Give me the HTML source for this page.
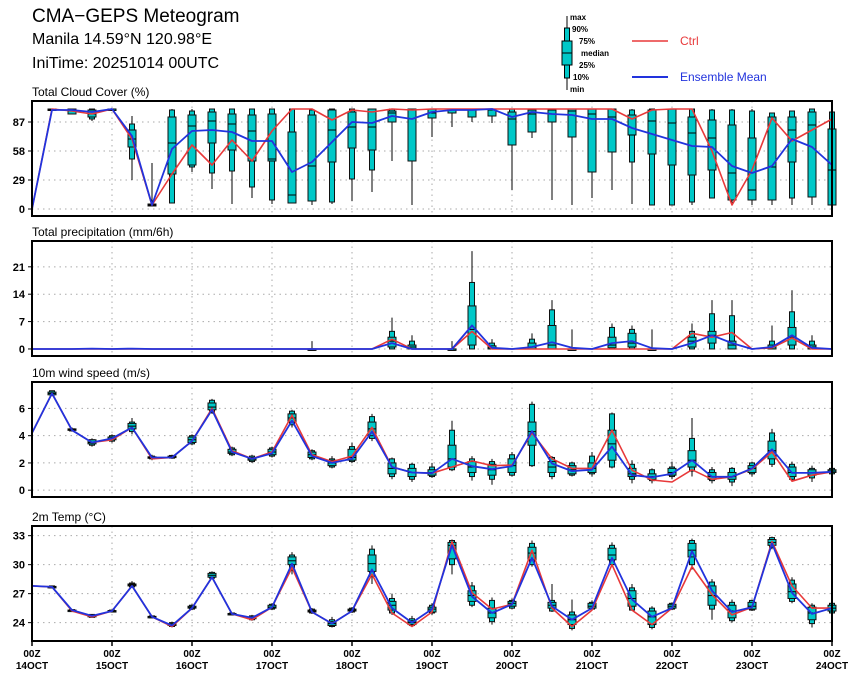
<!DOCTYPE html>
<html><head><meta charset="utf-8"><style>
html,body{margin:0;padding:0;background:#fff;}
#wrap{position:relative;width:860px;height:680px;overflow:hidden;font-family:"Liberation Sans",sans-serif;}
.t{position:absolute;left:32px;color:#000;white-space:nowrap;}
</style></head><body>
<div id="wrap">
<div class="t" style="top:6px;font-size:19px;">CMA−GEPS Meteogram</div>
<div class="t" style="top:31px;font-size:16px;">Manila 14.59°N 120.98°E</div>
<div class="t" style="top:55px;font-size:16px;">IniTime: 20251014 00UTC</div>
<svg id="chart" width="860" height="680" style="position:absolute;left:0;top:0">
 <g font-family="Liberation Sans" font-weight="bold" font-size="8">
  <line x1="567" y1="16" x2="567" y2="90" stroke="#000" stroke-width="1"/>
  <rect x="564.5" y="28" width="5" height="50" fill="#00c8c8" stroke="#000"/>
  <rect x="562" y="41" width="10" height="24" fill="#00c8c8" stroke="#000"/>
  <line x1="562" y1="53" x2="572" y2="53" stroke="#000"/>
  <text x="570" y="20">max</text><text x="572" y="32">90%</text><text x="579" y="44">75%</text>
  <text x="581" y="56">median</text><text x="579" y="68">25%</text><text x="573" y="80">10%</text><text x="570" y="92">min</text>
  <line x1="632" y1="41" x2="668" y2="41" stroke="#e8393a" stroke-width="1.5"/>
  <text x="680" y="45" fill="#e8393a" font-weight="normal" font-size="12">Ctrl</text>
  <line x1="632" y1="77" x2="668" y2="77" stroke="#2233dd" stroke-width="2"/>
  <text x="680" y="81" fill="#2233dd" font-weight="normal" font-size="12">Ensemble Mean</text>
 </g>
</svg>
</div>
<script>
// ---- Cloud cover (%) ----
const cMin=[null,99,95,88,99,29,3,6,37,20,5,11,5,6,4,5,8,17,48,4,72,82,87,86,19,71,9,4,11,19,5,4,4,4,11,4,4,4,4,4,4];
const cP10=[null,99,95,90,99,50,3,6,42,36,38,22,9,6,8,7,30,39,87,48,91,96,92,93,64,77,87,72,37,57,47,4,4,7,11,9,9,9,11,12,4];
const cP25=[null,99,95,92,99,62,3,35,44,66,59,48,48,6,8,47,61,59,87,48,91,96,92,93,64,77,87,72,37,57,74,55,44,34,39,9,9,9,47,12,4];
const cMed=[null,99,98,95,100,70,4,66,83,88,85,78,50,14,43,79,82,82,96,99,96,99,99,99,90,95,99,98,95,92,74,88,86,76,71,36,19,42,79,84,39];
const cP75=[null,100,100,99,100,79,5,92,94,97,95,94,95,77,94,99,97,100,98,100,100,100,100,100,97,99,100,100,100,100,94,99,100,92,89,84,71,92,92,97,80];
const cP90=[null,100,100,100,100,85,5,99,98,100,100,100,100,100,99,100,100,100,100,100,100,100,100,100,100,100,100,100,100,100,99,100,100,100,99,99,98,96,98,100,97];
const cMax=[null,100,100,100,100,93,46,100,100,100,100,100,100,100,100,100,100,100,100,100,100,100,100,100,100,100,100,100,100,100,100,100,100,100,100,100,100,96,98,100,97];
const cCtrl=[0,100,98,95,100,70,4,35,64,44,69,48,78,100,100,89,99,97,100,99,100,100,100,100,100,100,100,100,100,100,90,99,100,100,58,4,39,91,68,79,90];
const cMean=[0,99,99,97,100,73,4,60,78,79,77,68,68,37,47,67,87,86,93,90,97,99,99,100,92,97,95,94,90,90,81,75,69,63,62,43,36,43,70,62,44];
const cTicks=[0,29,58,87];
// ---- Precipitation (mm/6h) ----
const pMin=[0,0,0,0,0,0,0,0,0,0,0,0,0,0,0,0,0,0,0,0,0,0,0,0,0,0,0,0,0,0,0,0,0,0,0,0,0,0,0,0,0];
const pP10=[0,0,0,0,0,0,0,0,0,0,0,0,0,0,0,0,0,0,0,0,0,0,0,0,0,0,0,0,0,0,0,0,0,0,0,0,0,0,0,0,0];
const pP25=[0,0,0,0,0,0,0,0,0,0,0,0,0,0,0,0,0,0,0.5,0,0,0,1,0,0,0,0,0,0,0.3,0.5,0,0,0.5,1.5,0,0,0,1,0,0];
const pMed=[0,0,0,0,0,0,0,0,0,0,0,0,0,0,0,0,0,0,2,0.5,0,0,5,0.3,0,0.5,1,0,0,1,1.5,0,0,2,3.5,1,0,0.5,3,0.5,0];
const pP75=[0,0,0,0,0,0,0,0,0,0,0,0,0,0,0,0,0,0,3,1,0,0,11,0.8,0,1.5,6,0,0,3,4,0,0,3,4.5,2,0,1,5.5,1,0];
const pP90=[0,0,0,0,0,0,0,0,0,0,0,0,0,0,0,0,0,0,4.5,2,0,0,17,1.5,0,2.5,10,0,0,5.5,5,0,0,4.5,9,8.5,0,2,9.5,2,0];
const pMax=[0,0,0,0,0,0,0,0,0,0,0,0,0,0,2,0,0,0,8,3.5,0,2,25,2.5,0,4,12.5,5,0,6.5,6,5,0,6.5,12.5,12.5,0,6,15,3.5,0];
const pCtrl=[0,0,0,0,0,0,0,0,0,0,0,0,0,0,0,0,0,0,2.5,0,0,0,4.5,0,0,0,0,0,0,0,0,0,0,4,3,4.2,0,0.3,2.8,0,0];
const pMean=[0,0,0,0.1,0,0.1,0,0,0,0,0,0,0,0,0,0,0,0,1.5,0,0,0,6,0.3,0,0.5,1.7,0.3,0,1.5,2,0.2,0,1.5,3.5,1.5,0,0.5,3.5,0.3,0];
const pTicks=[0,7,14,21];
// ---- 10m wind speed (m/s) ----
const wMin=[null,6.9,4.3,3.2,3.5,4.1,2.2,2.3,3.3,5.6,2.5,2.0,2.4,4.6,2.2,1.6,2.0,3.6,0.8,0.6,0.9,1.4,0.7,0.4,1.0,1.7,0.8,1.0,1.0,1.6,0.5,0.5,0.8,1.0,0.5,0.3,1.0,1.7,0.7,0.6,1.1];
const wP10=[null,7.0,4.35,3.3,3.6,4.3,2.3,2.35,3.4,5.7,2.6,2.1,2.5,4.8,2.3,1.7,2.1,3.8,1.0,0.8,1.0,1.5,1.0,0.8,1.1,1.8,1.0,1.1,1.2,1.7,0.8,0.7,1.0,1.4,0.7,0.6,1.2,1.9,0.8,0.9,1.2];
const wP25=[null,7.0,4.4,3.4,3.7,4.5,2.35,2.4,3.5,5.9,2.7,2.2,2.6,5.0,2.4,1.8,2.2,4.0,1.2,1.0,1.1,1.7,1.3,1.1,1.3,3.3,1.3,1.2,1.3,2.2,1.0,0.8,1.1,1.7,0.8,0.8,1.3,2.3,1.0,1.1,1.3];
const wMed=[null,7.1,4.45,3.5,3.8,4.7,2.4,2.45,3.7,6.1,2.8,2.3,2.8,5.3,2.6,2.0,2.4,4.5,1.6,1.3,1.3,2.3,1.7,1.5,1.8,4.3,1.7,1.5,1.6,3.4,1.2,1.0,1.3,2.2,1.0,1.0,1.6,2.9,1.3,1.3,1.4];
const wP75=[null,7.2,4.5,3.7,3.9,4.9,2.45,2.5,3.9,6.4,3.0,2.4,3.0,5.6,2.8,2.2,3.0,5.0,2.0,1.6,1.5,3.3,2.1,1.9,2.3,5.0,2.1,1.8,2.0,4.4,1.6,1.2,1.6,2.9,1.3,1.3,1.8,3.6,1.7,1.5,1.5];
const wP90=[null,7.3,4.5,3.7,4.0,5.0,2.5,2.55,4.0,6.6,3.1,2.5,3.1,5.8,2.9,2.3,3.2,5.4,2.3,1.9,1.7,4.4,2.3,2.1,2.6,6.3,2.4,2.0,2.5,5.6,1.9,1.5,1.7,3.8,1.5,1.6,2.0,4.2,1.9,1.6,1.6];
const wMax=[null,7.3,4.6,3.8,4.1,5.3,2.6,2.6,4.1,6.7,3.2,2.6,3.2,5.9,3.0,2.5,3.5,5.6,2.4,2.0,2.0,5.1,2.5,2.3,2.8,6.5,2.5,2.1,2.8,5.7,2.2,1.6,2.1,5.3,1.7,1.7,2.1,4.5,2.1,1.8,1.7];
const wCtrl=[4.2,7.1,4.4,3.5,3.7,4.6,2.3,2.4,3.6,6.0,2.9,2.3,2.8,5.5,2.6,2.1,2.5,4.6,1.7,1.3,1.25,1.7,2.15,1.8,1.84,4.2,2.3,1.6,1.6,4.4,1.47,0.75,0.6,1.5,0.8,0.98,1.55,2.8,0.66,1.1,1.35];
const wMean=[4.2,7.1,4.4,3.5,3.8,4.6,2.4,2.4,3.6,5.9,2.8,2.3,2.7,5.1,2.5,2.0,2.3,4.3,1.7,1.3,1.25,2.3,1.76,1.54,1.76,4.34,1.96,1.4,1.5,3.2,1.1,0.95,1.2,2.2,0.98,0.98,1.6,3.0,1.27,1.27,1.35];
const wTicks=[0,2,4,6];
// ---- 2m Temp (°C) ----
const tMin=[null,27.6,25.1,24.5,25.1,27.6,24.5,23.5,25.3,28.5,24.8,24.2,25.3,29.0,24.9,23.5,25.0,28.0,24.8,23.6,24.8,29.0,25.6,23.8,25.4,29.8,25.1,23.2,25.3,29.8,25.2,23.3,25.3,29.5,24.3,24.0,25.2,31.6,26.0,23.5,24.9];
const tP10=[null,27.6,25.15,24.55,25.1,27.7,24.5,23.6,25.4,28.6,24.8,24.3,25.4,29.7,25.0,23.6,25.1,28.8,25.0,23.7,25.0,30.0,25.8,24.1,25.5,30.0,25.2,23.4,25.4,30.0,25.3,23.5,25.4,30.0,25.4,24.2,25.3,31.8,26.2,23.9,25.0];
const tP25=[null,27.65,25.2,24.6,25.15,27.8,24.55,23.7,25.5,28.7,24.85,24.4,25.5,30.0,25.1,23.7,25.2,29.3,25.3,23.8,25.1,30.6,26.2,24.5,25.7,30.5,25.5,23.8,25.5,30.5,25.7,23.8,25.5,30.8,25.8,24.5,25.4,32.0,26.5,24.3,25.2];
const tMed=[null,27.7,25.25,24.7,25.2,27.9,24.6,23.8,25.6,28.9,24.9,24.5,25.6,30.4,25.2,23.9,25.3,30.1,25.8,24.0,25.4,32.0,26.8,25.0,26.0,31.2,25.8,24.3,25.7,31.0,26.5,24.6,25.7,31.5,26.8,25.2,25.7,32.3,27.2,25.0,25.5];
const tP75=[null,27.75,25.3,24.8,25.25,28.0,24.65,23.9,25.7,29.1,24.95,24.6,25.8,30.8,25.3,24.1,25.4,31.0,26.2,24.2,25.6,32.3,27.3,25.5,26.2,31.8,26.1,24.8,26.0,31.7,27.3,25.2,25.9,32.2,27.8,25.8,26.1,32.6,28.0,25.6,25.8];
const tP90=[null,27.8,25.35,24.85,25.3,28.1,24.7,24.0,25.8,29.2,25.0,24.7,25.9,31.0,25.4,24.3,25.5,31.6,26.5,24.4,25.8,32.5,27.8,26.3,26.3,32.2,26.3,25.1,26.1,32.0,27.6,25.5,26.0,32.5,28.2,26.1,26.3,32.8,28.4,25.8,26.0];
const tMax=[null,27.8,25.4,24.9,25.3,28.3,24.7,24.1,25.9,29.3,25.0,24.8,26.0,31.3,25.5,24.6,25.6,32.0,27.0,24.7,26.0,32.6,28.2,26.6,26.5,32.5,28.0,26.4,26.3,32.3,28.0,25.7,26.1,32.7,28.5,26.4,26.4,32.9,28.7,26.0,26.1];
const tCtrl=[27.8,27.7,25.2,24.6,25.2,27.8,24.6,23.6,25.5,28.7,24.9,24.3,25.6,29.7,25.1,23.9,25.2,29.0,25.0,23.6,25.1,32.4,27.1,25.4,25.9,31.5,25.5,23.6,25.3,30.0,25.3,23.8,25.5,29.8,26.9,24.8,25.6,32.4,27.8,25.5,25.5];
const tMean=[27.8,27.7,25.3,24.7,25.2,27.8,24.6,23.7,25.5,28.7,24.9,24.5,25.6,30.1,25.1,23.9,25.2,29.5,25.5,24.0,25.4,32.0,26.7,25.0,25.9,30.7,25.7,24.3,25.5,30.7,26.4,24.6,25.5,31.4,27.3,25.1,25.6,32.2,27.1,24.9,25.5];
const tTicks=[24,27,30,33];
const dayLabels=["14OCT","15OCT","16OCT","17OCT","18OCT","19OCT","20OCT","21OCT","22OCT","23OCT","24OCT"];

const NS='http://www.w3.org/2000/svg';
const svg=document.getElementById('chart');
const X0=32,X1=832,NSTEP=40;
function xs(i){return X0+(X1-X0)*i/NSTEP;}
function mk(tag,attrs,parent){const e=document.createElementNS(NS,tag);for(const k in attrs)e.setAttribute(k,attrs[k]);(parent||svg).appendChild(e);return e;}

const panels=[
 {key:'cloud',title:'Total Cloud Cover (%)',top:101,bot:216,vmin:-7,vmax:108,ticks:cTicks,mn:cMin,p10:cP10,p25:cP25,med:cMed,p75:cP75,p90:cP90,mx:cMax,ctrl:cCtrl,mean:cMean,thr:-1},
 {key:'precip',title:'Total precipitation (mm/6h)',top:241,bot:356,vmin:-1.8,vmax:27.6,ticks:pTicks,mn:pMin,p10:pP10,p25:pP25,med:pMed,p75:pP75,p90:pP90,mx:pMax,ctrl:pCtrl,mean:pMean,thr:0.3},
 {key:'wind',title:'10m wind speed (m/s)',top:382,bot:497,vmin:-0.5,vmax:7.94,ticks:wTicks,mn:wMin,p10:wP10,p25:wP25,med:wMed,p75:wP75,p90:wP90,mx:wMax,ctrl:wCtrl,mean:wMean,thr:-1},
 {key:'temp',title:'2m Temp (°C)',top:526,bot:641,vmin:22.1,vmax:34.0,ticks:tTicks,mn:tMin,p10:tP10,p25:tP25,med:tMed,p75:tP75,p90:tP90,mx:tMax,ctrl:tCtrl,mean:tMean,thr:-1}
];

panels.forEach(p=>{
 const ys=v=>p.bot-(v-p.vmin)/(p.vmax-p.vmin)*(p.bot-p.top);
 const g=mk('g',{});
 
 
 const tt=mk('text',{x:32,y:p.top-5,'font-size':12,'font-family':'Liberation Sans'},g);
 
 
 tt.textContent=p.title;
 p.ticks.forEach(t=>{
  const y=ys(t);
  const gl=mk('line',{x1:X0,x2:X1,y1:y,y2:y,stroke:'#aaa','stroke-width':1,'stroke-dasharray':'1.5,4'},g);
  
  
  mk('line',{x1:X0-4,x2:X0,y1:y,y2:y,stroke:'#000'},g);
  const lb=mk('text',{x:X0-7,y:y+4,'text-anchor':'end','font-size':11,'font-weight':'bold','font-family':'Liberation Sans'},g);
  
  
  lb.textContent=t;
 });
 for(let d=1;d<10;d++){
  const x=xs(d*4);
  const vl=mk('line',{x1:x,x2:x,y1:p.top,y2:p.bot,stroke:'#aaa','stroke-width':1,'stroke-dasharray':'1.5,4'},g);
  
  
 }
 for(let i=0;i<p.mx.length;i++){
  if(p.mx[i]===null||p.mx[i]<=p.thr)continue;
  const x=xs(i);
  const bg=mk('g',{},g);
  
  
  mk('line',{x1:x,x2:x,y1:ys(p.mx[i]),y2:ys(p.mn[i]),stroke:'#000','stroke-width':1},bg);
  const y90=ys(p.p90[i]),y10=ys(p.p10[i]);
  mk('rect',{x:x-2.5,y:y90,width:5,height:Math.max(1.5,y10-y90),fill:'#00c8c8',stroke:'#111','stroke-width':1},bg);
  const y75=ys(p.p75[i]),y25=ys(p.p25[i]);
  mk('rect',{x:x-4,y:y75,width:8,height:Math.max(1.5,y25-y75),fill:'#00c8c8',stroke:'#111','stroke-width':1},bg);
  const ym=ys(p.med[i]);
  mk('line',{x1:x-4,x2:x+4,y1:ym,y2:ym,stroke:'#000','stroke-width':1},bg);
 }
 const line=(arr,col,w,name)=>{
  const pts=arr.map((v,i)=>xs(i).toFixed(1)+','+ys(v).toFixed(1)).join(' ');
  const pl=mk('polyline',{points:pts,fill:'none',stroke:col,'stroke-width':w,'stroke-linejoin':'round'},g);
  
  
 };
 line(p.ctrl,'#e8393a',1.6,'ctrl');
 line(p.mean,'#2233dd',1.8,'ensemble-mean');
 const fr=mk('rect',{x:X0,y:p.top,width:X1-X0,height:p.bot-p.top,fill:'none',stroke:'#000','stroke-width':2},g);
 
 
});
const xg=mk('g',{'font-family':'Liberation Sans','font-size':10,'font-weight':'bold','text-anchor':'middle'});


dayLabels.forEach((lab,d)=>{
 const x=xs(d*4);
 mk('line',{x1:x,x2:x,y1:641,y2:646,stroke:'#000','stroke-width':1.5},xg);
 const a=mk('text',{x:x,y:657},xg);
 
 
 a.textContent='00Z';
 const b=mk('text',{x:x,y:669},xg);
 
 
 b.textContent=lab;
});
</script>
</body></html>
